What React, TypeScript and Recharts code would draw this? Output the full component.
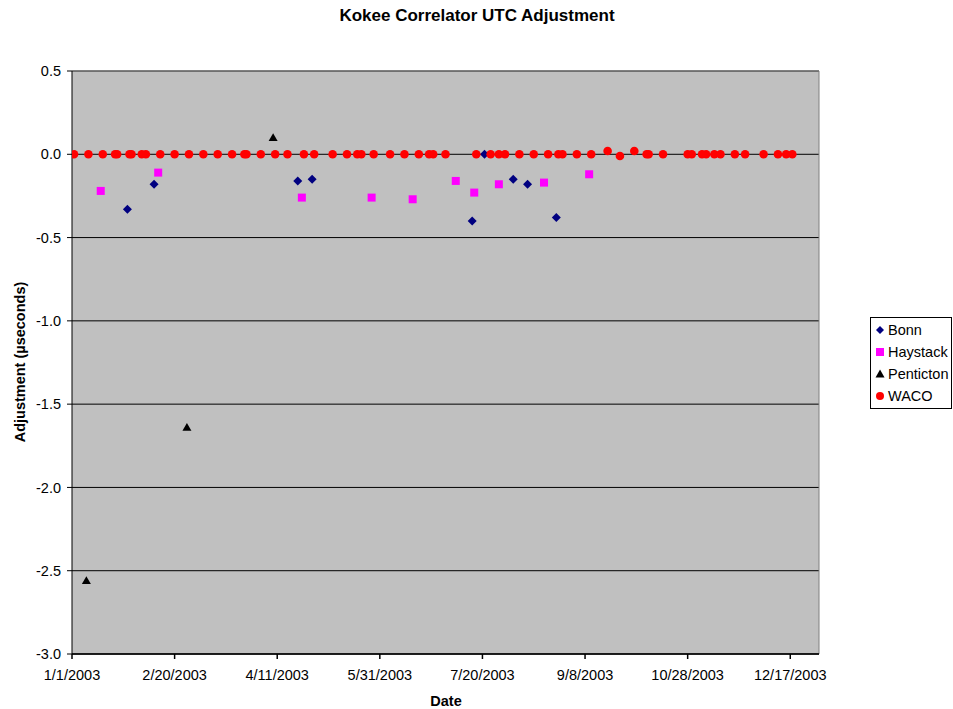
import { ScatterChart, Scatter, XAxis, YAxis, CartesianGrid, ReferenceLine, Legend } from 'recharts'

// x values are days since 1/1/2003
const xTickDays = [0, 50, 100, 150, 200, 250, 300, 350]
const xTickLabels = ['1/1/2003', '2/20/2003', '4/11/2003', '5/31/2003', '7/20/2003', '9/8/2003', '10/28/2003', '12/17/2003']
const yTicks = [0.5, 0, -0.5, -1, -1.5, -2, -2.5, -3]

const bonnDays = [27, 40, 110, 117, 195, 201, 215, 222, 236]
const bonnValues = [-0.33, -0.18, -0.16, -0.15, -0.4, 0.0, -0.15, -0.18, -0.38]

const haystackDays = [14, 42, 112, 146, 166, 187, 196, 208, 230, 252]
const haystackValues = [-0.22, -0.11, -0.26, -0.26, -0.27, -0.16, -0.23, -0.18, -0.17, -0.12]

const pentictonDays = [7, 56, 98]
const pentictonValues = [-2.56, -1.64, 0.1]

const wacoDays = [
  1, 8, 15, 21, 22, 28, 29, 34, 36, 43, 50, 57, 64, 71, 78, 84, 85, 92, 99, 105,
  113, 118, 127, 134, 139, 141, 147, 155, 162, 169, 174, 176, 182, 197, 204, 208,
  211, 218, 225, 232, 237, 239, 246, 253, 261, 267, 274, 280, 281, 288, 300, 302,
  307, 309, 313, 316, 323, 328, 337, 344, 348, 351,
]
const wacoValues = [
  0, 0, 0, 0, 0, 0, 0, 0, 0, 0, 0, 0, 0, 0, 0, 0, 0, 0, 0, 0,
  0, 0, 0, 0, 0, 0, 0, 0, 0, 0, 0, 0, 0, 0, 0, 0,
  0, 0, 0, 0, 0, 0, 0, 0, 0.02, -0.01, 0.02, 0, 0, 0, 0, 0,
  0, 0, 0, 0, 0, 0, 0, 0, 0, 0,
]

const FONT = 'Arial, "Liberation Sans", sans-serif'

const toPoints = (days: number[], values: number[]) => days.map((d, i) => ({ day: d, value: values[i] }))

const bonnData = toPoints(bonnDays, bonnValues)
const haystackData = toPoints(haystackDays, haystackValues)
const pentictonData = toPoints(pentictonDays, pentictonValues)
const wacoData = toPoints(wacoDays, wacoValues)

const Diamond = ({ cx, cy, s = 4.5 }: any) => (
  <polygon points={`${cx},${cy - s} ${cx + s},${cy} ${cx},${cy + s} ${cx - s},${cy}`} fill="#000080" />
)
const Square = ({ cx, cy, s = 4 }: any) => (
  <rect x={cx - s} y={cy - s} width={s * 2} height={s * 2} fill="#FF00FF" />
)
const Triangle = ({ cx, cy, s = 4.5 }: any) => (
  <polygon points={`${cx},${cy - s} ${cx + s},${cy + s * 0.75} ${cx - s},${cy + s * 0.75}`} fill="#000000" />
)
const Dot = ({ cx, cy, s = 4.3 }: any) => <circle cx={cx} cy={cy} r={s} fill="#FF0000" />

const LEGEND_ITEMS = [
  { name: 'Bonn', Icon: Diamond, s: 4 },
  { name: 'Haystack', Icon: Square, s: 4 },
  { name: 'Penticton', Icon: Triangle, s: 4.5 },
  { name: 'WACO', Icon: Dot, s: 4 },
]

function LegendBox() {
  return (
    <div
      style={{
        width: 82,
        height: 92,
        border: '1px solid #000',
        background: '#fff',
        boxSizing: 'border-box',
        paddingTop: 1,
        fontFamily: FONT,
        fontSize: 14.5,
      }}
    >
      {LEGEND_ITEMS.map(({ name, Icon, s }) => (
        <div key={name} style={{ display: 'flex', alignItems: 'center', height: 22, paddingLeft: 3 }}>
          <svg width={12} height={12} style={{ marginRight: 2 }}>
            <Icon cx={6} cy={6} s={s} />
          </svg>
          <span>{name}</span>
        </div>
      ))}
    </div>
  )
}

export default function App() {
  return (
    <div style={{ position: 'absolute', left: 0, top: 0, width: 953, height: 709, background: '#fff', fontFamily: FONT }}>
      <ScatterChart width={953} height={709} margin={{ top: 71, right: 134, bottom: 25, left: 0 }}>
        <CartesianGrid horizontal vertical={false} stroke="#000" fill="#C0C0C0" />
        <XAxis
          type="number"
          dataKey="day"
          domain={[0, 364]}
          ticks={xTickDays}
          tickFormatter={(v: number) => xTickLabels[xTickDays.indexOf(v)] ?? ''}
          height={30}
          tickSize={5}
          tickMargin={11}
          stroke="#000"
          strokeWidth={1.5}
          tick={{ fill: '#000', fontSize: 14.5, fontFamily: FONT }}
          allowDataOverflow
        />
        <YAxis
          type="number"
          dataKey="value"
          domain={[-3, 0.5]}
          ticks={yTicks}
          tickFormatter={(v: number) => v.toFixed(1)}
          width={72}
          tickSize={5}
          tickMargin={6}
          stroke="#000"
          tick={{ fill: '#000', fontSize: 14.5, fontFamily: FONT }}
          allowDataOverflow
        />
        <ReferenceLine y={0.5} stroke="#808080" />
        <ReferenceLine x={364} stroke="#808080" />
        <Scatter name="Bonn" data={bonnData} shape={Diamond} isAnimationActive={false} />
        <Scatter name="Haystack" data={haystackData} shape={Square} isAnimationActive={false} />
        <Scatter name="Penticton" data={pentictonData} shape={Triangle} isAnimationActive={false} />
        <Scatter name="WACO" data={wacoData} shape={Dot} isAnimationActive={false} />
        <Legend
          layout="vertical"
          align="center"
          verticalAlign="middle"
          wrapperStyle={{ left: 870, top: 317, width: 82 }}
          content={() => <LegendBox />}
        />
      </ScatterChart>
      <svg width={953} height={709} style={{ position: 'absolute', left: 0, top: 0, pointerEvents: 'none' }}>
        <text x={477} y={21} textAnchor="middle" fontFamily={FONT} fontSize={17} fontWeight="bold">
          Kokee Correlator UTC Adjustment
        </text>
        <text x={446} y={706} textAnchor="middle" fontFamily={FONT} fontSize={14.5} fontWeight="bold">
          Date
        </text>
        <text
          transform="translate(25,362) rotate(-90)"
          textAnchor="middle"
          fontFamily={FONT}
          fontSize={14.5}
          fontWeight="bold"
        >
          Adjustment (µseconds)
        </text>
      </svg>
    </div>
  )
}
